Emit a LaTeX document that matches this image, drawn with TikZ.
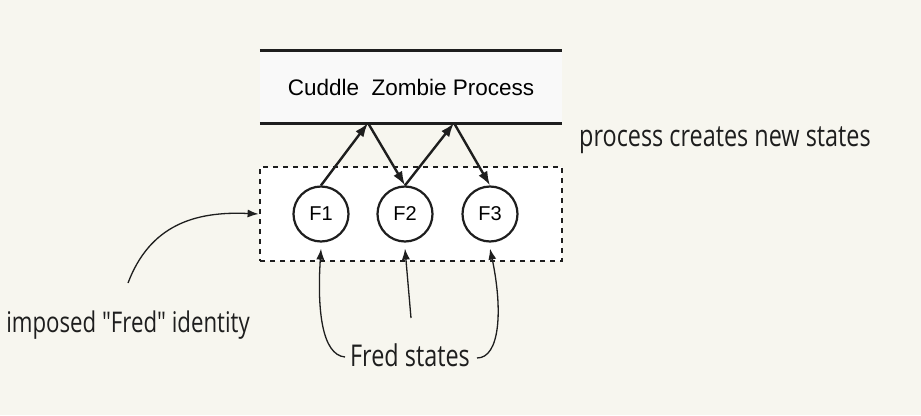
\documentclass[tikz,border=0pt]{standalone}
\usepackage{fontspec}
\setmainfont{Liberation Sans}
\newfontfamily\handfont[FakeStretch=0.78]{Open Sans}
\usetikzlibrary{arrows.meta}
\definecolor{bg}{HTML}{F7F6EF}
\definecolor{boxfill}{HTML}{F9F9F9}
\definecolor{ink}{HTML}{1E1E1E}
\begin{document}
\begin{tikzpicture}[x=1pt,y=-1pt,
  statec/.style={circle,draw=ink,line width=2.2pt,fill=white,minimum size=55pt,inner sep=0pt,font=\fontsize{20}{20}\selectfont},
  arr/.style={-{Latex[length=14pt,width=10pt]},line width=2.4pt,draw=ink},
  handarr/.style={-{Latex[length=11pt,width=8pt]},line width=1.3pt,draw=ink},
  hand/.style={font=\handfont\fontsize{30}{30}\selectfont,text=ink,inner sep=0pt}]
\fill[bg] (0,0) rectangle (921,415);
\useasboundingbox (0,0) rectangle (921,415);
% process box
\node[fill=boxfill,minimum width=302pt,minimum height=72pt,inner sep=0pt] (proc) at (411,87)
  {\fontsize{22.5}{22.5}\selectfont Cuddle\ \ Zombie Process};
\draw[line width=3pt,ink] (proc.north west) -- (proc.north east);
\draw[line width=3pt,ink] (proc.south west) -- (proc.south east);
% group of states
\node[draw=ink,fill=white,line width=2.8pt,dash pattern=on 5pt off 5pt,minimum width=302pt,minimum height=94pt,inner sep=0pt] (grp) at (411,214) {};
\node[statec] (f1) at (321,214) {F1};
\node[statec] (f2) at (405,214) {F2};
\node[statec] (f3) at (490,214) {F3};
\coordinate (p1) at (368,123);
\coordinate (p2) at (454,123);
\draw[arr] (f1.north) -- (p1);
\draw[arr] (p1) -- (f2.north);
\draw[arr] (f2.north) -- (p2);
\draw[arr] (p2) -- (f3.north);
% labels
\node[hand] (pcs) at (725,140) {process creates new states};
\node[hand,font=\handfont\fontsize{28.5}{28.5}\selectfont] (ifi) at (128,325) {imposed "Fred" identity};
\node[hand] (fs) at (410,355) {Fred states};
% annotation arrows
\coordinate (c1) at (128,283);
\draw[handarr] (c1) .. controls (150,225) and (195,211) .. (grp.west);
\coordinate (l0) at (345,357);
\draw[handarr] (l0) .. controls (322,355) and (317,310) .. ([yshift=-6pt]f1.south);
\coordinate (m0) at (411,318);
\draw[handarr] (m0) -- ([yshift=-6pt]f2.south);
\coordinate (r0) at (477,358);
\draw[handarr] (r0) .. controls (500,358) and (503,310) .. ([yshift=-6pt]f3.south);
\end{tikzpicture}
\end{document}
